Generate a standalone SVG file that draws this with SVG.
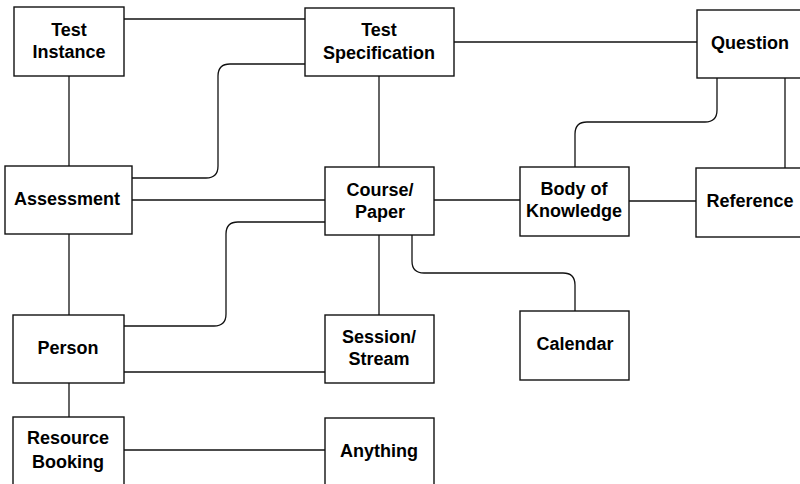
<svg xmlns="http://www.w3.org/2000/svg" width="800" height="484" viewBox="0 0 800 484">
<style>
.box{fill:#fff;stroke:#111;stroke-width:1.4}
.c{fill:none;stroke:#111;stroke-width:1.3}
text{font-family:"Liberation Sans",Arial,sans-serif;font-weight:bold;font-size:18px;fill:#000;text-anchor:middle}
</style>
<rect width="800" height="484" fill="#fff"/>
<g id="connectors">
<path class="c" d="M124 19H305"/>
<path class="c" d="M454 42H697"/>
<path class="c" d="M69 76V166"/>
<path class="c" d="M379 76V167"/>
<path class="c" d="M132 178H206Q218 178 218 166V76Q218 64 230 64H305"/>
<path class="c" d="M132 200H325"/>
<path class="c" d="M434 200H520"/>
<path class="c" d="M629 201H696"/>
<path class="c" d="M717 78V110Q717 122 705 122H587Q575 122 575 134V167"/>
<path class="c" d="M785 78V168"/>
<path class="c" d="M325 222H238Q226 222 226 234V314Q226 326 214 326H124"/>
<path class="c" d="M69 234V315"/>
<path class="c" d="M379 235V315"/>
<path class="c" d="M412 235V261Q412 273 424 273H563Q575 273 575 285V311"/>
<path class="c" d="M124 372H325"/>
<path class="c" d="M69 383V417"/>
<path class="c" d="M124 450H325"/>
</g>
<g id="test-instance"><rect class="box" x="14" y="7" width="110" height="69"/><text x="69" y="36">Test</text><text x="69" y="58">Instance</text></g>
<g id="test-specification"><rect class="box" x="305" y="8" width="149" height="68"/><text x="379" y="36">Test</text><text x="379" y="59">Specification</text></g>
<g id="question"><rect class="box" x="697" y="10" width="110" height="68"/><text x="750" y="49">Question</text></g>
<g id="assessment"><rect class="box" x="5" y="166" width="127" height="68"/><text x="67" y="205">Assessment</text></g>
<g id="course-paper"><rect class="box" x="325" y="167" width="109" height="68"/><text x="380" y="196">Course/</text><text x="380" y="218">Paper</text></g>
<g id="body-of-knowledge"><rect class="box" x="520" y="167" width="109" height="69"/><text x="574" y="195">Body of</text><text x="574" y="217">Knowledge</text></g>
<g id="reference"><rect class="box" x="696" y="168" width="110" height="69"/><text x="750" y="207">Reference</text></g>
<g id="person"><rect class="box" x="13" y="315" width="111" height="68"/><text x="68" y="354">Person</text></g>
<g id="session-stream"><rect class="box" x="325" y="315" width="109" height="68"/><text x="379" y="343">Session/</text><text x="379" y="365">Stream</text></g>
<g id="calendar"><rect class="box" x="520" y="311" width="109" height="69"/><text x="575" y="350">Calendar</text></g>
<g id="resource-booking"><rect class="box" x="13" y="417" width="111" height="70"/><text x="68" y="444">Resource</text><text x="68" y="468">Booking</text></g>
<g id="anything"><rect class="box" x="325" y="418" width="109" height="69"/><text x="379" y="457">Anything</text></g>
</svg>
